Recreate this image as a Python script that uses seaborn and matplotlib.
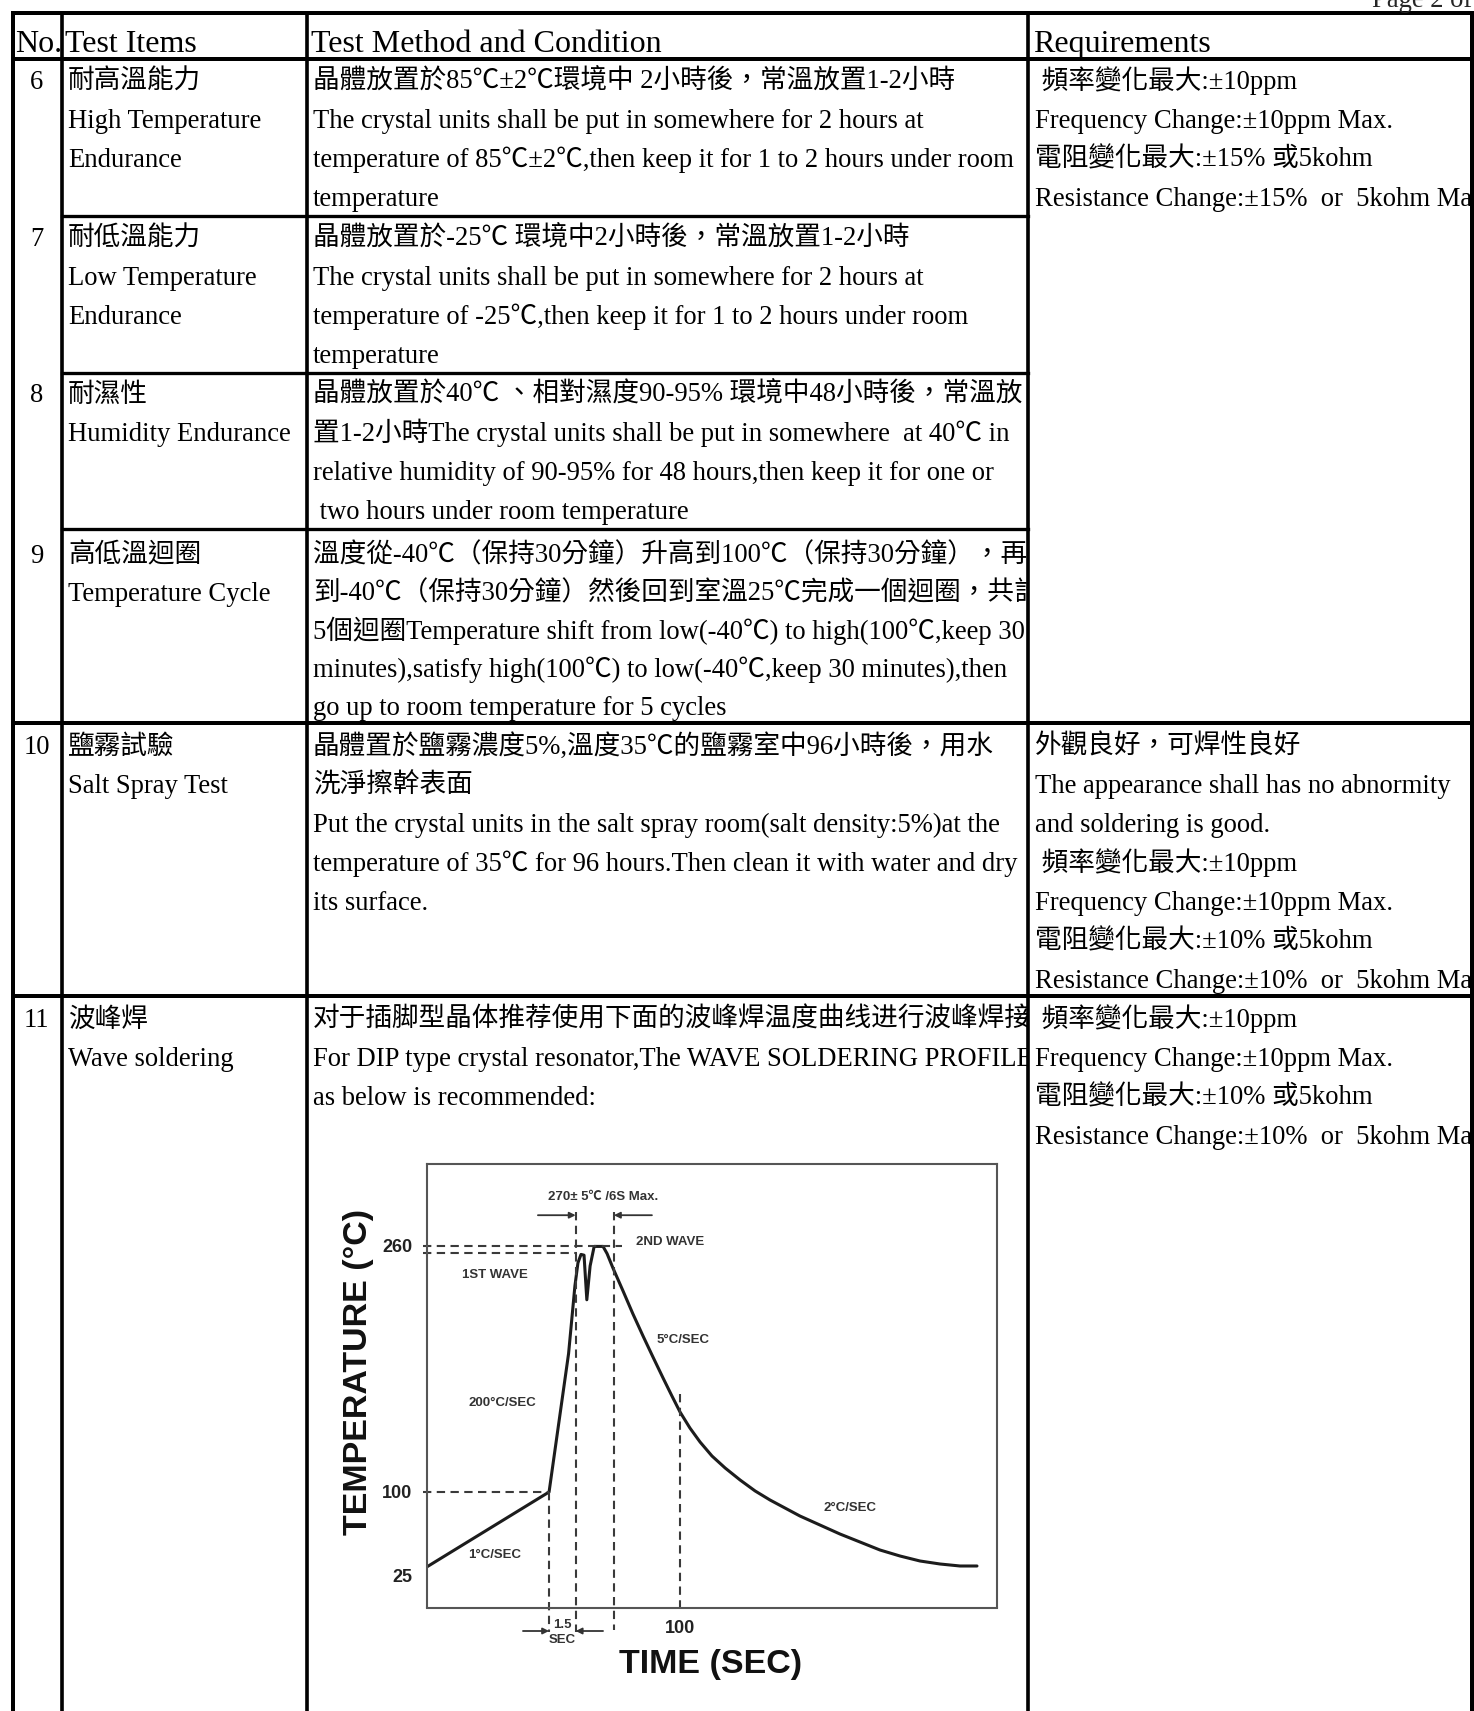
import numpy as np
import pandas as pd
import matplotlib
matplotlib.use("Agg")
import matplotlib.pyplot as plt
import matplotlib.transforms as mtransforms
import seaborn as sns
from matplotlib.transforms import Bbox

# ------------------------------------------------------------------ data
row_numbers = ["6", "7", "8", "9", "10", "11"]

item_lines = [
    ["耐高溫能力", "High Temperature", "Endurance"],
    ["耐低溫能力", "Low Temperature", "Endurance"],
    ["耐濕性", "Humidity Endurance"],
    ["高低溫迴圈", "Temperature Cycle"],
    ["鹽霧試驗", "Salt Spray Test"],
    ["波峰焊", "Wave soldering"],
]

method_lines = [
    ["晶體放置於85℃±2℃環境中 2小時後，常溫放置1-2小時",
     "The crystal units shall be put in somewhere for 2 hours at",
     "temperature of 85℃±2℃,then keep it for 1 to 2 hours under room",
     "temperature"],
    ["晶體放置於-25℃ 環境中2小時後，常溫放置1-2小時",
     "The crystal units shall be put in somewhere for 2 hours at",
     "temperature of -25℃,then keep it for 1 to 2 hours under room",
     "temperature"],
    ["晶體放置於40℃ 、相對濕度90-95% 環境中48小時後，常溫放",
     "置1-2小時The crystal units shall be put in somewhere  at 40℃ in",
     "relative humidity of 90-95% for 48 hours,then keep it for one or",
     " two hours under room temperature"],
    ["溫度從-40℃（保持30分鐘）升高到100℃（保持30分鐘），再",
     "到-40℃（保持30分鐘）然後回到室溫25℃完成一個迴圈，共計",
     "5個迴圈Temperature shift from low(-40℃) to high(100℃,keep 30",
     "minutes),satisfy high(100℃) to low(-40℃,keep 30 minutes),then",
     "go up to room temperature for 5 cycles"],
    ["晶體置於鹽霧濃度5%,溫度35℃的鹽霧室中96小時後，用水",
     "洗淨擦幹表面",
     "Put the crystal units in the salt spray room(salt density:5%)at the",
     "temperature of 35℃ for 96 hours.Then clean it with water and dry",
     "its surface."],
    ["对于插脚型晶体推荐使用下面的波峰焊温度曲线进行波峰焊接",
     "For DIP type crystal resonator,The WAVE SOLDERING PROFILE",
     "as below is recommended:"],
]

req_blocks = [
    [" 頻率變化最大:±10ppm", "Frequency Change:±10ppm Max.",
     "電阻變化最大:±15% 或5kohm", "Resistance Change:±15%  or  5kohm Max."],
    None, None, None,
    ["外觀良好，可焊性良好", "The appearance shall has no abnormity",
     "and soldering is good.", " 頻率變化最大:±10ppm",
     "Frequency Change:±10ppm Max.", "電阻變化最大:±10% 或5kohm",
     "Resistance Change:±10%  or  5kohm Max."],
    [" 頻率變化最大:±10ppm", "Frequency Change:±10ppm Max.",
     "電阻變化最大:±10% 或5kohm", "Resistance Change:±10%  or  5kohm Max."],
]

header_labels = ["No.", "Test Items", "Test Method and Condition", "Requirements"]

# wave-soldering profile (time in s, temperature in °C)
profile_time = [0, 48.3, 56.0, 58.5, 59.7, 60.9, 62.1, 63.2, 64.5, 66.1, 69.6,
                71.2, 73.5, 77.5, 81.4, 85.4, 89.3, 93.3, 96.8, 100.0, 103.9,
                107.9, 112.6, 117.8, 123.7, 129.6, 135.5, 141.4, 147.3, 155.2,
                163.1, 171.0, 178.9, 186.8, 194.7, 202.6, 210.5, 217.2]
profile_temp = [25, 100, 190, 234, 249, 254.5, 254, 225, 247, 259.7, 259.7,
                255, 245.7, 230.7, 215.8, 201.4, 187.8, 174.1, 162.4, 152.0, 141.6,
                132.5, 123.4, 115.6, 107.8, 100.7, 92, 84, 76, 67,
                58, 50, 42, 36, 31, 28, 26, 26]

y_tick_values = [25, 100, 260]
x_tick_values = [100]
peak_temps = [260, 255.5]          # 2nd wave peak, 1st wave peak
preheat_end = (48.3, 100)          # end of 1 °C/s preheat
wave_window = [58.8, 73.9]         # 270±5 °C / 6 s max window
t_mark = 100

# ------------------------------------------------------------------ page setup
W, H = 1474, 1711
sns.set_theme(style="white")
SERIF = ["Liberation Serif", "Noto Sans CJK TC", "DejaVu Sans"]
SANS = ["Liberation Sans", "Noto Sans CJK TC", "DejaVu Sans"]
plt.rcParams["font.family"] = SERIF

fig = plt.figure(figsize=(W / 100, H / 100), dpi=100)
fig.patch.set_facecolor("white")
tab = fig.add_axes([0, 0, 1, 1])
tab.set_xlim(0, W)
tab.set_ylim(H, 0)
tab.axis("off")

FS = 19.2
HFS = 23

X_L, X_NO, X_IT, X_RQ, X_R = 13, 62, 307, 1028, 1472
Y_T, Y_HD = 13, 59
row_tops = [59, 216, 373, 529, 723, 996]
row_bots = [216, 373, 529, 723, 996, H]
first_off = [21, 21, 20, 25, 22, 22]
spacing = [39, 39, 39, 38, 39, 39]

def put(x, y, s, clip=None, fs=FS, **kw):
    t = tab.text(x, y + 0.33 * fs * 100 / 72, s, fontsize=fs, va="baseline",
                 ha=kw.pop("ha", "left"), color="black", family=SERIF, **kw)
    if clip is not None:
        x0, y0, x1, y1 = clip
        t.set_clip_on(True)
        t.set_clip_box(Bbox.from_extents(x0, H - y1, x1, H - y0))
    return t

# page number (cut by top edge)
tab.text(1372, 7, "Page 2 of 3", fontsize=FS, va="baseline", ha="left", family=SERIF)

# header
hy = 41
put(X_L + 2, hy, header_labels[0], fs=HFS)
put(X_NO + 3, hy, header_labels[1], fs=HFS)
put(X_IT + 4, hy, header_labels[2], fs=HFS)
put(X_RQ + 5, hy, header_labels[3], fs=HFS)

for i in range(6):
    y0 = row_tops[i] + first_off[i]
    sp = spacing[i]
    put((X_L + X_NO) / 2 - 1, y0, row_numbers[i], ha="center")
    for j, s in enumerate(item_lines[i]):
        put(X_NO + 6, y0 + j * sp, s, clip=(X_NO, row_tops[i], X_IT, row_bots[i]))
    for j, s in enumerate(method_lines[i]):
        put(X_IT + 6, y0 + j * sp, s, clip=(X_IT, row_tops[i], X_RQ, row_bots[i]))
    if req_blocks[i] is not None:
        for j, s in enumerate(req_blocks[i]):
            put(X_RQ + 7, y0 + j * sp, s, clip=(X_RQ, row_tops[i], X_R + 1, row_bots[i]))

# table rules
LW_THICK = 4 * 72 / 100
LW_THIN = 3.3 * 72 / 100
kw_line = dict(color="black", solid_capstyle="projecting")
tab.plot([X_L, X_R], [Y_T, Y_T], lw=LW_THICK, **kw_line)
tab.plot([X_L, X_R], [Y_HD, Y_HD], lw=LW_THICK, **kw_line)
for x in (X_L, X_NO, X_IT, X_RQ, X_R):
    tab.plot([x, x], [Y_T, H + 5], lw=LW_THICK if x in (X_L, X_R) else LW_THIN * 1.1, **kw_line)
for y in (216, 373, 529):
    tab.plot([X_NO, X_RQ], [y, y], lw=LW_THIN, **kw_line)
for y in (723, 996):
    tab.plot([X_L, X_R], [y, y], lw=LW_THICK, **kw_line)

# ------------------------------------------------------------------ soldering chart
BX0, BX1, BY0, BY1 = 426.7, 997, 1164, 1607.5
ax = fig.add_axes([BX0 / W, 1 - BY1 / H, (BX1 - BX0) / W, (BY1 - BY0) / H])
ax.set_facecolor("white")

BREAK, K = 100.0, 1.5375
def fwd(T):
    T = np.asarray(T, dtype=float)
    return np.where(T < BREAK, T - BREAK, (T - BREAK) * K)
def inv(v):
    v = np.asarray(v, dtype=float)
    return np.where(v < 0, v + BREAK, v / K + BREAK)

df = pd.DataFrame({"time": profile_time, "temp": profile_temp})
sns.lineplot(data=df, x="time", y="temp", ax=ax, color="#1c1c1c", lw=2.2,
             sort=False, estimator=None)
ax.lines[-1].set_solid_joinstyle("round")
ax.set_yscale("function", functions=(fwd, inv))
ax.set_xlim(0, 225.1)
ax.set_ylim(-15.5, 313.3)

dash = dict(color="#3a3a3a", lw=1.5, ls=(0, (4, 2.6)), clip_on=False)
ax.plot([-1.5, 77.1], [peak_temps[0]] * 2, **dash)
ax.plot([-1.5, 59.3], [peak_temps[1]] * 2, **dash)
ax.plot([-1.5, preheat_end[0]], [preheat_end[1]] * 2, **dash)
ax.plot([preheat_end[0]] * 2, [preheat_end[1], -40], **dash)
ax.plot([wave_window[0]] * 2, [282, -40], **dash)
ax.plot([wave_window[1]] * 2, [282, -38], **dash)
ax.plot([t_mark] * 2, [164, -15.5], **dash)

arr = dict(arrowstyle="-|>", color="#333333", lw=1.3, mutation_scale=9,
           shrinkA=0, shrinkB=0)
ax.annotate("", xy=(wave_window[0], 280), xytext=(43.9, 280), arrowprops=arr,
            annotation_clip=False)
ax.annotate("", xy=(wave_window[1], 280), xytext=(88.9, 280), arrowprops=arr,
            annotation_clip=False)
ax.annotate("", xy=(preheat_end[0], -39), xytext=(38, -39), arrowprops=arr,
            annotation_clip=False)
ax.annotate("", xy=(wave_window[0], -39), xytext=(69.6, -39), arrowprops=arr,
            annotation_clip=False)

small = dict(fontsize=9.5, fontweight="bold", color="#333333", family=SANS,
             ha="center", va="center", clip_on=False)
ax.text(69.6, 292, "270± 5℃ /6S Max.", **small)
ax.text(96.1, 262.6, "2ND WAVE", **small)
ax.text(27, 241, "1ST WAVE", **small)
ax.text(101.3, 199, "5°C/SEC", **small)
ax.text(29.7, 158, "200°C/SEC", **small)
ax.text(27, 37, "1°C/SEC", **small)
ax.text(167.2, 84, "2°C/SEC", **small)
ax.text(53.4, -33, "1.5", **small)
ax.text(53.4, -48, "SEC", **small)

ax.set_yticks(y_tick_values)
ax.set_yticklabels([str(v) for v in y_tick_values])
ax.set_xticks(x_tick_values)
ax.set_xticklabels([str(v) for v in x_tick_values])
ax.tick_params(axis="both", length=0, labelsize=13, colors="#222222")
ax.tick_params(axis="y", pad=10.5)
ax.tick_params(axis="x", pad=9)
for lab in ax.get_xticklabels() + ax.get_yticklabels():
    lab.set_fontweight("bold")
    lab.set_family(SANS)
# the "25" label sits a little below its level in the drawing
lowest = ax.get_yticklabels()[0]
lowest.set_transform(lowest.get_transform() +
                     mtransforms.ScaledTranslation(0, -9 / 100, fig.dpi_scale_trans))

ax.set_xlabel("TIME (SEC)", fontsize=24.5, fontweight="bold", family=SANS, color="#111111")
ax.set_ylabel("TEMPERATURE (°C)", fontsize=24.5, fontweight="bold", family=SANS, color="#111111")
ax.xaxis.set_label_coords(0.4985, -0.094)
ax.yaxis.set_label_coords(-0.092, 0.531)

for s in ax.spines.values():
    s.set_visible(True)
    s.set_color("#555555")
    s.set_linewidth(1.5)
ax.grid(False)

fig.savefig("out.png", dpi=100, facecolor="white")
